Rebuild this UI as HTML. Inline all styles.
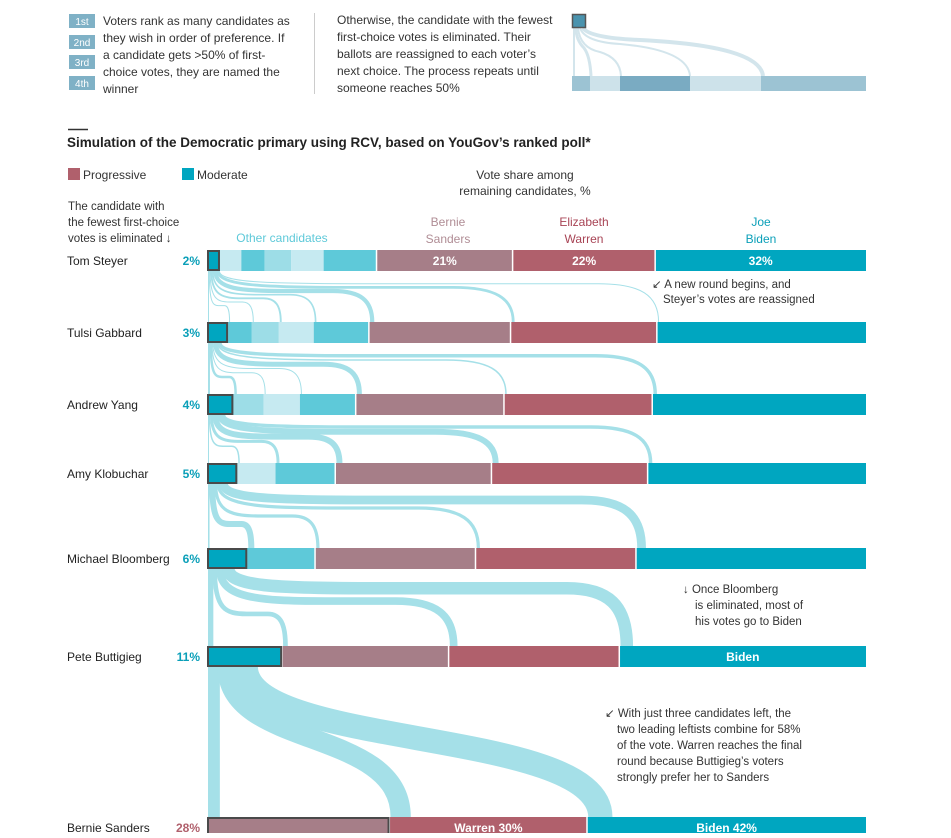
<!DOCTYPE html>
<html><head><meta charset="utf-8">
<style>
body{margin:0;background:#fff;width:951px;height:833px;overflow:hidden;font-family:"Liberation Sans",sans-serif;}
svg text{font-family:"Liberation Sans",sans-serif;}
</style></head>
<body>
<svg id="chart" width="951" height="833" viewBox="0 0 951 833" xmlns="http://www.w3.org/2000/svg">
<g font-size="12" fill="#333">
  <rect x="69" y="14" width="26" height="14" fill="#7fb1c6"/><text x="82" y="25" fill="#fff" font-size="10" text-anchor="middle">1st</text>
  <rect x="69" y="35" width="26" height="14" fill="#7fb1c6"/><text x="82" y="46" fill="#fff" font-size="10" text-anchor="middle">2nd</text>
  <rect x="69" y="55" width="26" height="14" fill="#7fb1c6"/><text x="82" y="66" fill="#fff" font-size="10" text-anchor="middle">3rd</text>
  <rect x="69" y="76" width="26" height="14" fill="#7fb1c6"/><text x="82" y="87" fill="#fff" font-size="10" text-anchor="middle">4th</text>
  <text x="103" y="25">Voters rank as many candidates as</text>
  <text x="103" y="42">they wish in order of preference. If</text>
  <text x="103" y="59">a candidate gets &gt;50% of first-</text>
  <text x="103" y="76">choice votes, they are named the</text>
  <text x="103" y="93">winner</text>
  <line x1="314.5" y1="13" x2="314.5" y2="94" stroke="#ccc"/>
  <text x="337" y="24">Otherwise, the candidate with the fewest</text>
  <text x="337" y="41">first-choice votes is eliminated. Their</text>
  <text x="337" y="58">ballots are reassigned to each voter’s</text>
  <text x="337" y="75">next choice. The process repeats until</text>
  <text x="337" y="92">someone reaches 50%</text>
  <g fill="none" stroke="#d3e5ec">
    <path d="M574 28 L574 76" stroke-width="2"/>
    <path d="M576 28 Q576 40 584 48 Q590 56 591 76" stroke-width="3"/>
    <path d="M578 28 Q580 48 600 52 Q620 58 621 76" stroke-width="2"/>
    <path d="M580 28 Q585 42 620 44 Q688 50 690 76" stroke-width="2"/>
    <path d="M583 28 Q590 38 640 40 Q760 46 763 76" stroke-width="4"/>
  </g>
  <rect x="572.5" y="14.5" width="13" height="13" fill="#4a93ae" stroke="#555" stroke-width="1.5"/>
  <rect x="572" y="76" width="18" height="15" fill="#9cc3d3"/>
  <rect x="590" y="76" width="30" height="15" fill="#cde2ea"/>
  <rect x="620" y="76" width="70" height="15" fill="#7aabc2"/>
  <rect x="690" y="76" width="71" height="15" fill="#cde2ea"/>
  <rect x="761" y="76" width="105" height="15" fill="#9cc3d3"/>
</g>
<line x1="68" y1="129.5" x2="88" y2="129.5" stroke="#333" stroke-width="1.5"/>
<text x="67" y="147" font-size="13.5" font-weight="bold" fill="#222">Simulation of the Democratic primary using RCV, based on YouGov’s ranked poll*</text>
<g font-size="12" fill="#333">
  <rect x="68" y="168" width="12" height="12" fill="#b0606c"/><text x="83" y="179">Progressive</text>
  <rect x="182" y="168" width="12" height="12" fill="#00a6c0"/><text x="197" y="179">Moderate</text>
</g>
<text x="525" y="179" font-size="12" fill="#333" text-anchor="middle">Vote share among</text>
<text x="525" y="195" font-size="12" fill="#333" text-anchor="middle">remaining candidates, %</text>
<text x="68" y="210" font-size="11.5" fill="#333">The candidate with</text>
<text x="68" y="226" font-size="11.5" fill="#333">the fewest first-choice</text>
<text x="68" y="242" font-size="11.5" fill="#333">votes is eliminated ↓</text>
<text x="282" y="242" font-size="12" fill="#5ec9d9" text-anchor="middle">Other candidates</text>
<text x="448" y="226" font-size="12" fill="#b08d95" text-anchor="middle">Bernie</text>
<text x="448" y="243" font-size="12" fill="#b08d95" text-anchor="middle">Sanders</text>
<text x="584" y="226" font-size="12" fill="#a84455" text-anchor="middle">Elizabeth</text>
<text x="584" y="243" font-size="12" fill="#a84455" text-anchor="middle">Warren</text>
<text x="761" y="226" font-size="12" fill="#0a9fb8" text-anchor="middle">Joe</text>
<text x="761" y="243" font-size="12" fill="#0a9fb8" text-anchor="middle">Biden</text>
<g id="flows"></g>
<g id="bars"></g>
<g font-size="11.5" fill="#333">
  <text x="652" y="288">↙ A new round begins, and</text>
  <text x="663" y="303">Steyer’s votes are reassigned</text>
  <text x="683" y="593">↓ Once Bloomberg</text>
  <text x="695" y="609">is eliminated, most of</text>
  <text x="695" y="625">his votes go to Biden</text>
  <text x="605" y="717">↙ With just three candidates left, the</text>
  <text x="617" y="733">two leading leftists combine for 58%</text>
  <text x="617" y="749">of the vote. Warren reaches the final</text>
  <text x="617" y="765">round because Buttigieg’s voters</text>
  <text x="617" y="781">strongly prefer her to Sanders</text>
</g>
</svg>
<script>
const candidates = ["Steyer","Gabbard","Yang","Klobuchar","Bloomberg","Buttigieg","Sanders","Warren","Biden"];
const rowNames = ["Tom Steyer","Tulsi Gabbard","Andrew Yang","Amy Klobuchar","Michael Bloomberg","Pete Buttigieg","Bernie Sanders"];
const round1 = [2,3.3,3.6,4.1,5,8.2,21,22,32.5];
const round2 = [3.2,3.6,4.1,5.3,8.4,21.5,22.2,31.7];
const round3 = [4,4.6,5.5,8.5,22.5,22.5,32.4];
const round4 = [4.6,5.8,9.1,23.7,23.7,33.1];
const round5 = [6.1,10.3,24.3,24.3,34.8];
const round6 = [11.4,25.3,25.9,37.4];
const round7 = [27.7,30,42.3];
const rounds = [round1,round2,round3,round4,round5,round6,round7];
const rowTops = [250,322,394,463,548,646,817];
const colors = {Steyer:"#00a6c0",Gabbard:"#c6eaf1",Yang:"#5ec9d9",Klobuchar:"#9ddde7",Bloomberg:"#c6eaf1",Buttigieg:"#5ec9d9",Sanders:"#a67e88",Warren:"#b0606c",Biden:"#00a6c0"};
const elimColors = {Sanders:"#a67e88"};
const NS="http://www.w3.org/2000/svg";
const X0=207, W=659, H=21;
const bars=document.getElementById('bars'), flows=document.getElementById('flows');
function xScale(v,total){return v/total*W;}
function mk(tag,attrs,parent){const e=document.createElementNS(NS,tag);for(const k in attrs)e.setAttribute(k,attrs[k]);parent.appendChild(e);return e;}
const geo=[];
rounds.forEach((vals,r)=>{
  const total=vals.reduce((a,b)=>a+b,0);
  const names=candidates.slice(r);
  let x=X0; const segs=[];
  vals.forEach((v,i)=>{
    const w=xScale(v,total);
    segs.push({name:names[i],x:x,w:w,v:v});
    x+=w;
  });
  geo.push({segs:segs,top:rowTops[r],total:total});
});
for(let r=0;r<geo.length-1;r++){
  const cur=geo[r], nxt=geo[r+1];
  const y0=cur.top+H, y1=nxt.top;
  const n=nxt.segs.length;
  let sx=X0+1;
  const last=(r===geo.length-2);
  nxt.segs.forEach((s,k)=>{
    const prev=cur.segs[k+1];
    const delta=Math.max(0.12,s.v/nxt.total*100-prev.v/cur.total*100);
    const sw=Math.max(1,delta*W/100*0.75);
    const startX=sx+sw/2; sx+=sw*0.8;
    const tx=s.x+sw/2+1;
    const yh=y0+(y1-y0)*(0.75-0.5*(n>1?k/(n-1):0));
    let d;
    if(tx-startX<4){d=`M${startX},${y0} L${startX},${y1}`;}
    else if(last){
      const g=y1-y0;
      d=`M${startX},${y0} C${startX},${y0+g*0.55} ${tx},${y1-g*0.6} ${tx},${y1}`;
    }
    else{
      const span=tx-startX;
      const R1=Math.min(span*0.45,140);
      const R2=Math.min(span*0.25,60);
      d=`M${startX},${y0} C${startX},${yh-(yh-y0)*0.1} ${startX+R1*0.35},${yh} ${startX+R1},${yh} L${tx-R2},${yh} C${tx-R2*0.3},${yh} ${tx},${yh+(y1-yh)*0.3} ${tx},${y1}`;
    }
    const p=mk('path',{d:d,fill:'none',stroke:'#a5e0e8','stroke-width':sw},flows);
    
    
  });
}
geo.forEach((g,r)=>{
  const grp=mk('g',{},bars);
  
  
  g.segs.forEach((s,i)=>{
    const fill=i===0?(elimColors[s.name]||"#00a6c0"):colors[s.name];
    const rc=mk('rect',{x:s.x,y:g.top,width:s.w,height:H,fill:fill},grp);
    
    
    if(i>=g.segs.length-3 && i>0){mk('rect',{x:s.x-1,y:g.top,width:1.5,height:H,fill:'#fff'},grp);}
  });
  const e=g.segs[0];
  const box=mk('rect',{x:e.x+1,y:g.top+1,width:e.w-2,height:H-2,fill:'none',stroke:'#4a4a4a','stroke-width':2},grp);
  
  
  const nm=mk('text',{x:67,y:g.top+15,'font-size':12,fill:'#222'},grp);
  nm.textContent=rowNames[r];
  
  
  const pc=mk('text',{x:200,y:g.top+15,'font-size':12,'font-weight':'bold','text-anchor':'end',fill:r===6?'#b0606c':'#0a9fb8'},grp);
  pc.textContent=Math.round(e.v/g.total*100)+'%';
  
  
});
function lab(r,name,txt){
  const g=geo[r]; const s=g.segs.find(q=>q.name===name);
  const t=mk('text',{x:s.x+s.w/2,y:g.top+15,'font-size':12,'font-weight':'bold',fill:'#fff','text-anchor':'middle'},bars);
  t.textContent=txt;
  
  
}
['Sanders','Warren','Biden'].forEach(n=>{const s=geo[0].segs.find(q=>q.name===n);lab(0,n,Math.round(s.v/geo[0].total*100)+'%');});
lab(5,'Biden','Biden');
lab(6,'Warren','Warren '+Math.round(round7[1])+'%');
lab(6,'Biden','Biden '+Math.round(round7[2])+'%');
</script>
</body></html>
